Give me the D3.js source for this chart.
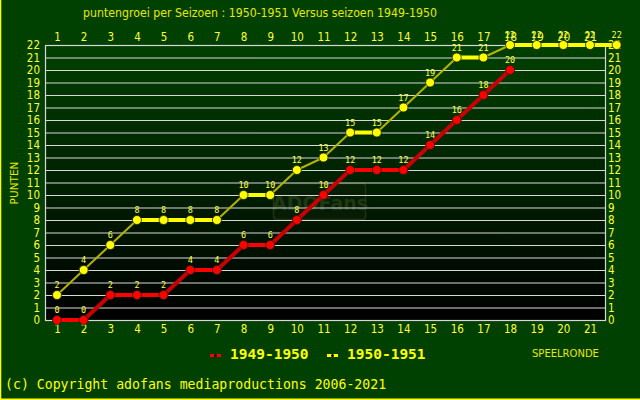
<!DOCTYPE html>
<html><head><meta charset="utf-8">
<script src="https://cdn.jsdelivr.net/npm/d3@7"></script>
<style>body{margin:0;background:#004000}svg{display:block}</style>
</head><body>
<script>
const rounds = d3.range(1, 23);
const axisRounds = d3.range(1, 22);
const yTicks = d3.range(0, 23);
const series1949 = [0,0,2,2,2,4,4,6,6,8,10,12,12,12,14,16,18,20];
const series1950 = [2,4,6,8,8,8,8,10,10,12,13,15,15,17,19,21,21,22,22,22,22,22];
const seriesNames = ["1949-1950", "1950-1951"];
const title = "puntengroei per Seizoen : 1950-1951 Versus seizoen 1949-1950";

const W = 640, H = 400;
const svg = d3.select("body").append("svg").attr("width", W).attr("height", H);
svg.append("rect").attr("width", W).attr("height", H).attr("fill", "#004000");

const plot = {l: 45, r: 605, t: 45, b: 320};
const x = d3.scaleLinear().domain([1, 21]).range([57, 590]);
const y = d3.scaleLinear().domain([0, 22]).range([plot.b, plot.t]);

const defs = svg.append("defs");
const grad = defs.append("linearGradient").attr("id", "bg").attr("x1", 0).attr("x2", 0).attr("y1", 0).attr("y2", 1);
grad.append("stop").attr("offset", "0%").attr("stop-color", "#004000");
grad.append("stop").attr("offset", "100%").attr("stop-color", "#000000");

svg.append("rect").attr("x", plot.l).attr("y", plot.t).attr("width", plot.r - plot.l).attr("height", plot.b - plot.t).attr("fill", "url(#bg)");

// watermark
const wm = svg.append("g");
wm.append("rect").attr("x", 273.5).attr("y", 183.5).attr("width", 92).attr("height", 36).attr("rx", 3)
  .attr("fill", "#0c200a").attr("fill-opacity", 0.5).attr("stroke", "#1e3410").attr("stroke-width", 1.5);
wm.append("text").attr("x", 320).attr("y", 210).attr("text-anchor", "middle")
  .attr("font-family", "DejaVu Sans").attr("font-weight", "bold").attr("font-size", 19)
  .attr("fill", "#1e3812").text("ADOFans");

// gridlines
svg.append("g").selectAll("line").data(yTicks).join("line")
  .attr("x1", plot.l).attr("x2", plot.r).attr("y1", d => y(d) + 0.5).attr("y2", d => y(d) + 0.5)
  .attr("stroke", "#d8d8d8").attr("stroke-width", 1.2);
svg.append("rect").attr("x", plot.l + 0.5).attr("y", plot.t + 0.5).attr("width", plot.r - plot.l).attr("height", plot.b - plot.t)
  .attr("fill", "none").attr("stroke", "#d8d8d8").attr("stroke-width", 1.2);

const tickFont = "DejaVu Sans";
const tickCol = "#ffff33";
const leftAxis = d3.axisLeft(y).tickValues(yTicks).tickSize(0).tickPadding(5).tickFormat(d3.format("d"));
const gl = svg.append("g").attr("transform", `translate(${plot.l},0)`).call(leftAxis);
const rightAxis = d3.axisRight(y).tickValues(yTicks).tickSize(0).tickPadding(3).tickFormat(d3.format("d"));
const gr = svg.append("g").attr("transform", `translate(${plot.r},0)`).call(rightAxis);
const bottomAxis = d3.axisBottom(x).tickValues(axisRounds).tickSize(0).tickPadding(5).tickFormat(d3.format("d"));
const gb = svg.append("g").attr("transform", `translate(0,${plot.b})`).call(bottomAxis);
const topAxis = d3.axisTop(x).tickValues(axisRounds).tickSize(0).tickPadding(4).tickFormat(d3.format("d"));
const gt = svg.append("g").attr("transform", `translate(0,${plot.t})`).call(topAxis);
[gl, gr, gb, gt].forEach(g => {
  g.select(".domain").remove();
  g.selectAll("text").attr("fill", tickCol).attr("font-family", tickFont)
    .attr("font-stretch", "condensed").attr("font-size", 11.5);
});

// series
function drawSeries(vals, bright, dark, slopeW) {
  const pts = vals.map((v, i) => ({r: rounds[i], v}));
  const segs = d3.pairs(pts);
  const g = svg.append("g");
  g.selectAll("line").data(segs).join("line")
    .attr("x1", d => x(d[0].r)).attr("y1", d => y(d[0].v))
    .attr("x2", d => x(d[1].r)).attr("y2", d => y(d[1].v))
    .attr("stroke", d => d[0].v === d[1].v ? bright : dark)
    .attr("stroke-width", d => d[0].v === d[1].v ? 4 : slopeW);
  g.selectAll("circle").data(pts).join("circle")
    .attr("cx", d => x(d.r)).attr("cy", d => y(d.v)).attr("r", 4.5)
    .attr("fill", bright).attr("stroke", "#202000").attr("stroke-width", 0.8);
  g.selectAll("text").data(pts).join("text")
    .attr("x", d => x(d.r)).attr("y", d => y(d.v) - 7).attr("text-anchor", "middle")
    .attr("font-family", "DejaVu Sans Mono").attr("font-size", 8.5).attr("fill", "#ffff40")
    .text(d => d.v);
}
drawSeries(series1949, "#ff0000", "#c80000", 4);
drawSeries(series1950, "#ffff00", "#b4b400", 2);

// title
svg.append("text").attr("x", 83).attr("y", 17).attr("font-family", "DejaVu Sans").attr("font-stretch", "condensed")
  .attr("font-size", 13).attr("textLength", 354).attr("lengthAdjust", "spacingAndGlyphs")
  .attr("fill", "#e8e800").text(title);

// y label
svg.append("text").attr("transform", "translate(18,183) rotate(-90)").attr("text-anchor", "middle")
  .attr("font-family", "DejaVu Sans").attr("font-size", 10.5).attr("fill", "#e8e800").text("PUNTEN");

// x label
svg.append("text").attr("x", 532).attr("y", 357).attr("font-family", "DejaVu Sans").attr("font-size", 10)
  .attr("fill", "#e8e800").text("SPEELRONDE");

// legend
const legend = [{name: seriesNames[0], col: "#ff0000", x: 210, tx: 230}, {name: seriesNames[1], col: "#ffff00", x: 327, tx: 347}];
const lg = svg.append("g");
legend.forEach(d => {
  lg.append("line").attr("x1", d.x).attr("x2", d.x + 11).attr("y1", 355.5).attr("y2", 355.5).attr("stroke", d.col).attr("stroke-width", 3);
  lg.append("circle").attr("cx", d.x + 5.5).attr("cy", 355.5).attr("r", 1.5).attr("fill", "#000");
  lg.append("text").attr("x", d.tx).attr("y", 359).attr("font-family", "DejaVu Sans Mono").attr("font-weight", "bold")
    .attr("font-size", 14.5).attr("fill", "#ffff00").text(d.name);
});

// copyright
svg.append("text").attr("x", 5).attr("y", 389).attr("font-family", "DejaVu Sans Mono").attr("font-size", 13.2)
  .attr("fill", "#ffff00").text("(c) Copyright adofans mediaproductions 2006-2021");

// outer border (left and bottom)
svg.append("line").attr("x1", 0.5).attr("x2", 0.5).attr("y1", 0).attr("y2", H).attr("stroke", "#ffff00").attr("stroke-width", 1.5);
svg.append("line").attr("x1", 0).attr("x2", W).attr("y1", H - 0.75).attr("y2", H - 0.75).attr("stroke", "#ffff00").attr("stroke-width", 1.5);
</script>
</body></html>
